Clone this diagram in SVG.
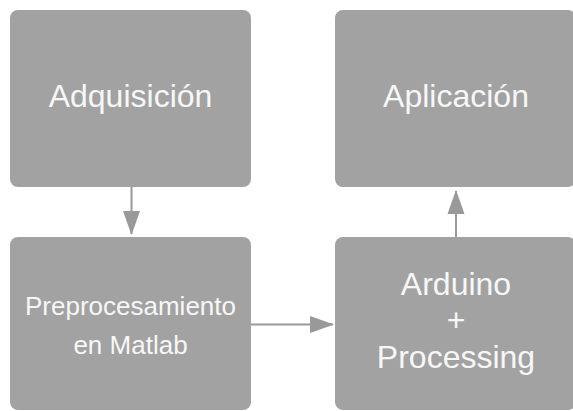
<svg xmlns="http://www.w3.org/2000/svg" width="573" height="411" viewBox="0 0 573 411">
<style>
.box{fill:#a2a2a2;}
.t{fill:#f7f7f7;font-family:"Liberation Sans",Arial,sans-serif;text-anchor:middle;}
.edge{stroke:#999999;stroke-width:2;fill:none;}
</style>
<defs>
<marker id="ah" markerWidth="24" markerHeight="18" refX="23" refY="9" orient="auto" markerUnits="userSpaceOnUse" viewBox="0 0 24 18">
<path d="M0,0.5 L24,9 L0,17.5 Z" fill="#999999"/>
</marker>
</defs>
<rect width="573" height="411" fill="#ffffff"/>
<g id="adquisicion">
<rect class="box" x="10" y="10" width="241" height="177" rx="8"/>
<text class="t" x="130.5" y="107" font-size="32">Adquisición</text>
</g>
<g id="aplicacion">
<rect class="box" x="335" y="10" width="241" height="177" rx="8"/>
<text class="t" x="456" y="107" font-size="32">Aplicación</text>
</g>
<g id="preprocesamiento">
<rect class="box" x="10" y="237" width="241" height="173" rx="8"/>
<text class="t" x="130.5" y="315" font-size="26">Preprocesamiento</text>
<text class="t" x="130.5" y="354" font-size="26">en Matlab</text>
</g>
<g id="arduino">
<rect class="box" x="335" y="237" width="241" height="173" rx="8"/>
<text class="t" x="456" y="295" font-size="32">Arduino</text>
<text class="t" x="456" y="331" font-size="32">+</text>
<text class="t" x="456" y="368" font-size="32">Processing</text>
</g>
<g id="connectors">
<line class="edge" x1="131.5" y1="187" x2="131.5" y2="234" marker-end="url(#ah)"/>
<line class="edge" x1="251" y1="324.5" x2="333" y2="324.5" marker-end="url(#ah)"/>
<line class="edge" x1="456" y1="237" x2="456" y2="191" marker-end="url(#ah)"/>
</g>
</svg>
